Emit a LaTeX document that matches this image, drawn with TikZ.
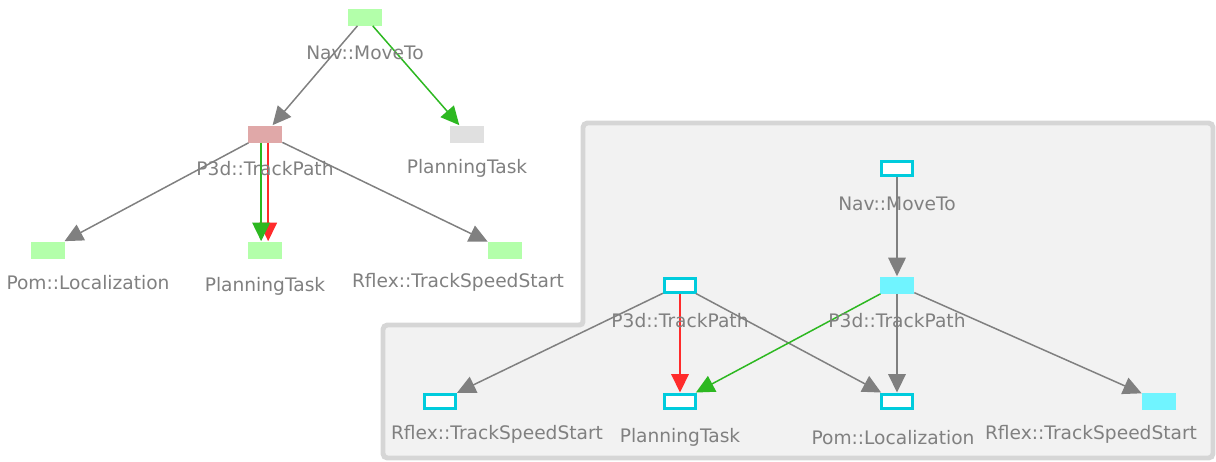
\documentclass[tikz,border=0pt]{standalone}
\usepackage{fontspec}
\setmainfont{DejaVu Sans}
\usetikzlibrary{arrows.meta}
\definecolor{edgegray}{HTML}{808080}
\definecolor{edgegreen}{HTML}{2DB821}
\definecolor{edgered}{HTML}{FF2B2B}
\definecolor{nodegreen}{HTML}{B3FFAA}
\definecolor{nodepink}{HTML}{E0A8A8}
\definecolor{nodegray}{HTML}{E0E0E0}
\definecolor{nodecyan}{HTML}{70F4FF}
\definecolor{linecyan}{HTML}{00CCDD}
\definecolor{regionline}{HTML}{D6D6D6}
\definecolor{regionfill}{HTML}{F2F2F2}
\begin{document}
\begin{tikzpicture}[x=0.02cm, y=-0.02cm,
  box/.style={minimum width=0.68cm, minimum height=0.34cm, inner sep=0pt},
  openbox/.style={draw=linecyan, fill=white, line width=1.7pt, minimum width=0.62cm, minimum height=0.28cm, inner sep=0pt},
  lbl/.style={text=edgegray, font=\fontsize{10.6}{12}\selectfont, inner sep=1pt, yshift=-1.4pt},
  tip/.style={-{Triangle[length=10.5pt, width=10pt]}, line width=0.85pt}]
\useasboundingbox (0,0) rectangle (1216,461);
% right-hand region
\draw[line width=2.8pt, draw=regionline, fill=regionfill, rounded corners=2.5pt]
  (583,123) -- (1213,123) -- (1213,458) -- (383,458) -- (383,325) -- (571,325) .. controls (583,325) .. (583,313) -- cycle;
% left graph
\node[box, fill=nodegreen] (navA) at (365,17) {};
\node[box, fill=nodepink] (trackA) at (265,134) {};
\node[box, fill=nodegray] (planA) at (467,134) {};
\node[box, fill=nodegreen] (pomA) at (48,250) {};
\node[box, fill=nodegreen] (planB) at (265,250) {};
\node[box, fill=nodegreen] (rflexA) at (505,250) {};
\draw[tip, edgegray] (navA) -- (trackA);
\draw[tip, edgegreen] (navA) -- (planA);
\draw[tip, edgegray] (trackA) -- (pomA);
\draw[tip, edgegray] (trackA) -- (rflexA);
\draw[tip, edgered] ([xshift=1.8pt]trackA.south) -- ([xshift=1.8pt]planB.north);
\draw[tip, edgegreen] ([xshift=-2.2pt]trackA.south) -- ([xshift=-2.2pt]planB.north);
\node[lbl] (navAl) at (365,50) {Nav::MoveTo};
\node[lbl] (trackAl) at (265,166) {P3d::TrackPath};
\node[lbl] (planAl) at (467,166) {PlanningTask};
\node[lbl] (pomAl) at (88,280) {Pom::Localization};
\node[lbl] (planBl) at (265,284) {PlanningTask};
\node[lbl] (rflexAl) at (458,280) {Rflex::TrackSpeedStart};
% right graph
\node[openbox] (navB) at (897,168) {};
\node[box, fill=nodecyan] (trackB) at (897,285) {};
\node[openbox] (trackC) at (680,285) {};
\node[openbox] (rflexB) at (440,401) {};
\node[openbox] (planC) at (680,401) {};
\node[openbox] (pomB) at (897,401) {};
\node[box, fill=nodecyan] (rflexC) at (1159,401) {};
\draw[tip, edgegray] (navB) -- (trackB);
\draw[tip, edgegray] (trackC) -- (rflexB);
\draw[tip, edgered] (trackC) -- (planC);
\draw[tip, edgegray] (trackC) -- (pomB);
\draw[tip, edgegreen] (trackB) -- (planC);
\draw[tip, edgegray] (trackB) -- (pomB);
\draw[tip, edgegray] (trackB) -- (rflexC);
\node[lbl] (navBl) at (897,201) {Nav::MoveTo};
\node[lbl] (trackBl) at (897,318) {P3d::TrackPath};
\node[lbl] (trackCl) at (680,318) {P3d::TrackPath};
\node[lbl] (rflexBl) at (497,432) {Rflex::TrackSpeedStart};
\node[lbl] (planCl) at (680,435) {PlanningTask};
\node[lbl] (pomBl) at (893,435) {Pom::Localization};
\node[lbl] (rflexCl) at (1091,432) {Rflex::TrackSpeedStart};
\end{tikzpicture}
\end{document}
